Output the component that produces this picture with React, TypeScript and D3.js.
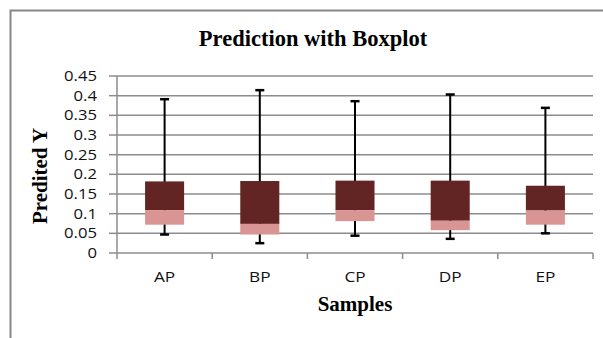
import React from "react";
import * as d3 from "d3";

const categories = ["AP", "BP", "CP", "DP", "EP"];
const whiskerLow = [0.047, 0.025, 0.044, 0.036, 0.05];
const boxLow = [0.072, 0.047, 0.081, 0.058, 0.072];
const medians = [0.109, 0.074, 0.109, 0.082, 0.108];
const boxHigh = [0.182, 0.183, 0.184, 0.184, 0.171];
const whiskerHigh = [0.391, 0.414, 0.386, 0.403, 0.369];
const yTicks = [0, 0.05, 0.1, 0.15, 0.2, 0.25, 0.3, 0.35, 0.4, 0.45];
const yTickLabels = ["0", "0.05", "0.1", "0.15", "0.2", "0.25", "0.3", "0.35", "0.4", "0.45"];

const W = 603;
const H = 338;
const plot = { left: 117, right: 593, top: 76, bottom: 253 };

export default function App() {
  const x = d3.scaleBand<string>().domain(categories).range([plot.left, plot.right]).padding(0);
  const y = d3.scaleLinear().domain([0, 0.45]).range([plot.bottom, plot.top]);
  const bw = x.bandwidth();
  const boxW = bw * 0.41;
  const capW = 9;
  const tickFont = "'Open Sans', 'Liberation Sans', sans-serif";
  const serif = "'Liberation Serif', 'Times New Roman', serif";
  const boundaries = categories.map((c) => x(c) as number).concat([plot.right]);

  return (
    <svg width={W} height={H} style={{ position: "absolute", left: 0, top: 0, background: "#fff" }}>
      <rect x={10.5} y={10.5} width={W + 20} height={H + 20} fill="#fff" stroke="#888" strokeWidth={2} />
      <text x={313} y={46} textAnchor="middle" fontFamily={serif} fontWeight="bold" fontSize={22.5} fill="#000">
        Prediction with Boxplot
      </text>
      {yTicks.map((t, i) => (
        <g key={"g" + i}>
          {i > 0 && (
            <line x1={plot.left} x2={plot.right} y1={y(t)} y2={y(t)} stroke="#8c8c8c" strokeWidth={1.5} />
          )}
          <line x1={plot.left - 8} x2={plot.left} y1={y(t)} y2={y(t)} stroke="#8c8c8c" strokeWidth={1.5} />
          <text
            x={0}
            y={0}
            transform={`translate(${plot.left - 20},${y(t) + 5}) scale(1.15,1)`}
            textAnchor="end"
            fontFamily={tickFont}
            fontSize={14.5}
            fill="#111"
          >
            {yTickLabels[i]}
          </text>
        </g>
      ))}
      <line x1={plot.left} x2={plot.left} y1={plot.top} y2={plot.bottom} stroke="#8c8c8c" strokeWidth={1.5} />
      <line x1={plot.left} x2={plot.right} y1={plot.bottom} y2={plot.bottom} stroke="#8c8c8c" strokeWidth={1.5} />
      {boundaries.map((b, i) => (
        <line key={"t" + i} x1={b} x2={b} y1={plot.bottom} y2={plot.bottom + 6} stroke="#8c8c8c" strokeWidth={1.5} />
      ))}
      {categories.map((c, i) => {
        const cx = (x(c) as number) + bw / 2;
        return (
          <g key={c}>
            <line x1={cx} x2={cx} y1={y(whiskerHigh[i])} y2={y(whiskerLow[i])} stroke="#000" strokeWidth={2} />
            <line x1={cx - capW / 2} x2={cx + capW / 2} y1={y(whiskerHigh[i])} y2={y(whiskerHigh[i])} stroke="#000" strokeWidth={2.5} />
            <line x1={cx - capW / 2} x2={cx + capW / 2} y1={y(whiskerLow[i])} y2={y(whiskerLow[i])} stroke="#000" strokeWidth={2.5} />
            <rect x={cx - boxW / 2} y={y(boxHigh[i])} width={boxW} height={y(medians[i]) - y(boxHigh[i])} fill="#632523" />
            <rect x={cx - boxW / 2} y={y(medians[i])} width={boxW} height={y(boxLow[i]) - y(medians[i])} fill="#D99594" />
            <text
              x={0}
              y={0}
              transform={`translate(${cx},${282}) scale(1.15,1)`}
              textAnchor="middle"
              fontFamily={tickFont}
              fontSize={15}
              fill="#111"
            >
              {c}
            </text>
          </g>
        );
      })}
      <text x={355} y={311} textAnchor="middle" fontFamily={serif} fontWeight="bold" fontSize={21} fill="#000">
        Samples
      </text>
      <text
        transform={`translate(47,176) rotate(-90)`}
        textAnchor="middle"
        fontFamily={serif}
        fontWeight="bold"
        fontSize={21}
        fill="#000"
      >
        Predited Y
      </text>
    </svg>
  );
}
